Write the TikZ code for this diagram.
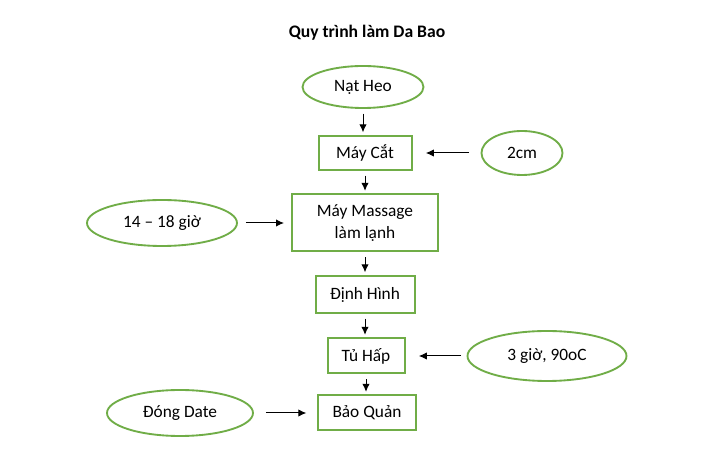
\documentclass[tikz,border=0pt]{standalone}
\usepackage{fontspec}
\setmainfont{Carlito}
\usetikzlibrary{shapes.geometric,arrows.meta}
\definecolor{stepgreen}{HTML}{70AD47}

\begin{document}
\begin{tikzpicture}[x=0.75pt,y=-0.75pt,font=\fontsize{13}{16.5}\selectfont,
  box/.style={draw=stepgreen,line width=1.5pt,inner sep=0pt,align=center},
  oval/.style={ellipse,draw=stepgreen,line width=1.4pt,inner sep=0pt},
  flow/.style={line width=0.75pt,-{Latex[length=6pt,width=5.5pt]}}]
  \path[use as bounding box,fill=white] (0,0) rectangle (715,459);

  %title
  \node[font=\fontsize{13.2}{15}\selectfont\bfseries] (title) at (367,33) {Quy trình làm Da Bao};

  %main steps
  \node[oval,minimum width=90.75pt,minimum height=31.5pt] (nathe) at (363,87) {Nạt Heo};
  \node[box,minimum width=69.75pt,minimum height=25.5pt] (maycat) at (365,153) {Máy Cắt};
  \node[box,minimum width=109.5pt,minimum height=42.75pt] (massage) at (365,223) {Máy Massage\\làm lạnh};
  \node[box,minimum width=74.25pt,minimum height=27.75pt] (dinhhinh) at (365,294.5) {Định Hình};
  \node[box,minimum width=57.75pt,minimum height=26.25pt] (tuhap) at (366,356) {Tủ Hấp};
  \node[box,minimum width=73.5pt,minimum height=26.25pt] (baoquan) at (367,413) {Bảo Quản};

  %inputs
  \node[oval,minimum width=60.75pt,minimum height=33pt] (cm) at (522,153) {2cm};
  \node[oval,minimum width=112.5pt,minimum height=34.5pt] (gio) at (162,223) {14 – 18 giờ};
  \node[oval,minimum width=119.25pt,minimum height=37.5pt] (nhiet) at (547,356) {3 giờ, 90oC};
  \node[oval,minimum width=109.5pt,minimum height=34.5pt] (date) at (180,413) {Đóng Date};

  %vertical arrows
  \foreach \a/\b in {nathe/maycat,maycat/massage,massage/dinhhinh,dinhhinh/tuhap,tuhap/baoquan}
    \draw[flow,shorten <=3.5pt,shorten >=2pt] (\a.south) -- (\a.south |- \b.north);

  %side arrows
  \draw[flow,shorten <=8.6pt,shorten >=10pt] (cm) -- (maycat);
  \draw[flow,shorten <=6pt,shorten >=5.25pt] (gio) -- (massage);
  \draw[flow,shorten <=4pt,shorten >=10pt] (nhiet) -- (tuhap);
  \draw[flow,shorten <=9pt,shorten >=8pt] (date) -- (baoquan);
\end{tikzpicture}
\end{document}
